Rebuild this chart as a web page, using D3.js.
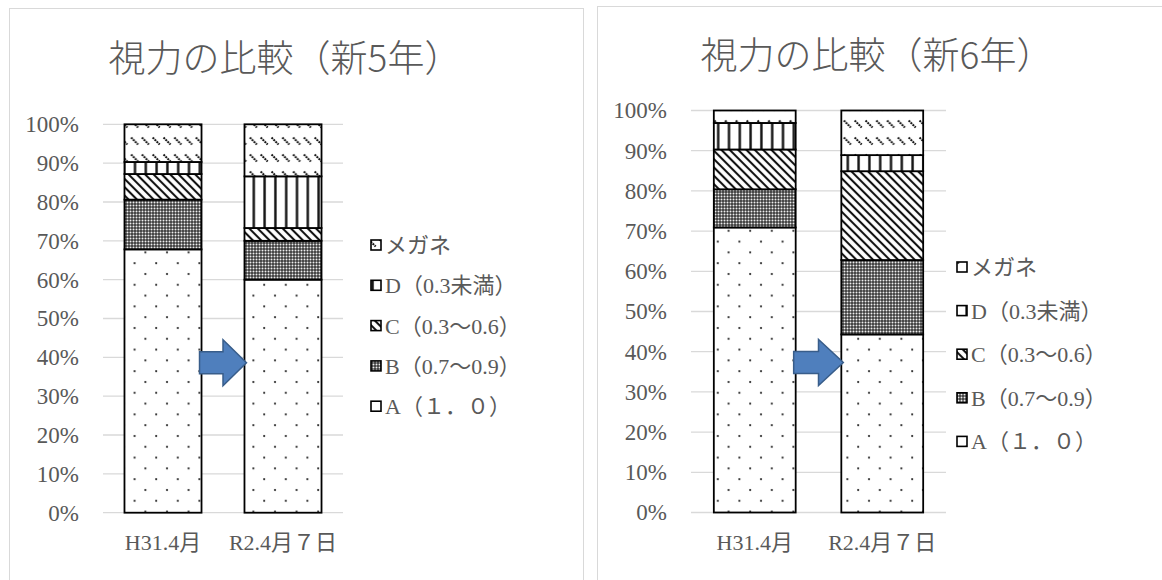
<!DOCTYPE html>
<html>
<head>
<meta charset="utf-8">
<script src="https://cdn.jsdelivr.net/npm/d3@7"></script>
<style>
  html, body { margin: 0; padding: 0; background: #fff; }
  svg { display: block; }
  text { font-family: "Liberation Serif", "Noto Sans CJK JP", serif; fill: #595959; }
</style>
</head>
<body>
<svg width="1162" height="580"></svg>
<script>
// data, percent of pupils per vision class
let categories = ["H31.4月", "R2.4月７日"];
let seriesKeys = ["A", "B", "C", "D", "G"];
let seriesNames = ["A（１．０）", "B（0.7〜0.9）", "C（0.3〜0.6）", "D（0.3未満）", "メガネ"];
let yTicks = [0, 10, 20, 30, 40, 50, 60, 70, 80, 90, 100];

let grade5H31 = [67.8, 12.8, 6.6, 3.1, 9.7];
let grade5R2  = [60.0, 10.0, 3.3, 13.3, 13.4];
let grade6H31 = [70.9, 9.5, 9.9, 6.6, 3.1];
let grade6R2  = [44.3, 18.5, 22.1, 4.0, 11.1];

let titles = ["視力の比較（新5年）", "視力の比較（新6年）"];

// layout of the two panels
let charts = [
    { title: titles[0], rows: [grade5H31, grade5R2],
      panel: {x: 9.5, y: 8.5, w: 574, h: 600},
      plot: {left: 103, right: 343, bottom: 512.7, top: 124.3},
      titleX: 285, titleY: 72,
      legendX: 371, legendY: 245, legendStep: 40.3 },
    { title: titles[1], rows: [grade6H31, grade6R2],
      panel: {x: 597.5, y: 6.5, w: 600, h: 600},
      plot: {left: 691, right: 946, bottom: 512.5, top: 110.5},
      titleX: 877, titleY: 69,
      legendX: 957, legendY: 267, legendStep: 43.6 }
];

var svg = d3.select('svg');
var defs = svg.append('defs');

// fill patterns
let patA = defs.append('pattern').attr('id', 'pA')
    .attr('patternUnits', 'userSpaceOnUse').attr('width', 21.6).attr('height', 21.6);
patA.append('rect').attr('width', 21.6).attr('height', 21.6).attr('fill', '#fff');
patA.append('circle').attr('cx', 5).attr('cy', 4).attr('r', 1.1).attr('fill', '#222');
patA.append('circle').attr('cx', 15.8).attr('cy', 14.8).attr('r', 1.1).attr('fill', '#222');

let patB = defs.append('pattern').attr('id', 'pB')
    .attr('patternUnits', 'userSpaceOnUse').attr('width', 3).attr('height', 3);
patB.append('rect').attr('width', 3).attr('height', 3).attr('fill', '#3a3a3a');
patB.append('circle').attr('cx', 1.5).attr('cy', 1.5).attr('r', 1.0).attr('fill', '#eee');

let patC = defs.append('pattern').attr('id', 'pC')
    .attr('patternUnits', 'userSpaceOnUse').attr('width', 5.9).attr('height', 10)
    .attr('patternTransform', 'rotate(-45)');
patC.append('rect').attr('width', 5.9).attr('height', 10).attr('fill', '#fff');
patC.append('line').attr('x1', 2.95).attr('x2', 2.95).attr('y1', -1).attr('y2', 11)
    .attr('stroke', '#111').attr('stroke-width', 2.1);

let patD = defs.append('pattern').attr('id', 'pD')
    .attr('patternUnits', 'userSpaceOnUse').attr('width', 10.8).attr('height', 10);
patD.append('rect').attr('width', 10.8).attr('height', 10).attr('fill', '#fff');
patD.append('line').attr('x1', 5.4).attr('x2', 5.4).attr('y1', -1).attr('y2', 11)
    .attr('stroke', '#111').attr('stroke-width', 2.4);

let patG = defs.append('pattern').attr('id', 'pG')
    .attr('patternUnits', 'userSpaceOnUse').attr('width', 10.8).attr('height', 17);
patG.append('rect').attr('width', 10.8).attr('height', 17).attr('fill', '#fff');
patG.append('line').attr('x1', 1.5).attr('y1', 1.5).attr('x2', 8.5).attr('y2', 8.5)
    .attr('stroke', '#111').attr('stroke-width', 2).attr('stroke-dasharray', '2 0.8');

let fills = {A: 'url(#pA)', B: 'url(#pB)', C: 'url(#pC)', D: 'url(#pD)', G: 'url(#pG)'};

charts.forEach(function(c) {
    let g = svg.append('g');

    // panel frame
    g.append('rect')
        .attr('x', c.panel.x).attr('y', c.panel.y)
        .attr('width', c.panel.w).attr('height', c.panel.h)
        .attr('fill', '#fff').attr('stroke', '#d9d9d9').attr('stroke-width', 1);

    g.append('text')
        .attr('x', c.titleX).attr('y', c.titleY)
        .attr('text-anchor', 'middle')
        .style('font-size', '37px')
        .style('font-family', '"Noto Sans CJK JP", "Liberation Serif"')
        .style('font-weight', 300)
        .text(c.title);

    let x = d3.scaleBand()
        .domain(categories)
        .range([c.plot.left, c.plot.right])
        .paddingInner(0.358)
        .paddingOuter(0.179);

    let y = d3.scaleLinear()
        .domain([0, 100])
        .range([c.plot.bottom, c.plot.top]);

    // gridlines
    g.append('g').selectAll('line')
        .data(yTicks)
        .enter()
        .append('line')
        .attr('x1', c.plot.left).attr('x2', c.plot.right)
        .attr('y1', d => y(d)).attr('y2', d => y(d))
        .attr('stroke', '#d9d9d9').attr('stroke-width', 1.3);

    let yAxis = g.append('g')
        .attr('transform', `translate(${c.plot.left}, 0)`)
        .call(d3.axisLeft(y).tickValues(yTicks).tickSize(0).tickPadding(24)
            .tickFormat(d => d + '%'));
    yAxis.select('.domain').remove();
    yAxis.selectAll('text')
        .style('font-family', '"Liberation Serif", "Noto Sans CJK JP"')
        .style('font-size', '23px')
        .attr('fill', '#595959');

    let xAxis = g.append('g')
        .attr('transform', `translate(0, ${c.plot.bottom})`)
        .call(d3.axisBottom(x).tickSize(0).tickPadding(22));
    xAxis.select('.domain').remove();
    xAxis.selectAll('text')
        .style('font-family', '"Liberation Serif", "Noto Sans CJK JP"')
        .style('font-size', '22px')
        .attr('fill', '#595959');

    // stacked bars
    let table = categories.map((cat, i) => {
        let row = {cat: cat};
        seriesKeys.forEach((k, j) => { row[k] = c.rows[i][j]; });
        return row;
    });
    let stacked = d3.stack().keys(seriesKeys)(table);

    stacked.forEach(function(layer) {
        g.append('g').selectAll('rect')
            .data(layer)
            .enter()
            .append('rect')
            .attr('x', d => x(d.data.cat))
            .attr('width', x.bandwidth())
            .attr('y', d => y(d[1]))
            .attr('height', d => y(d[0]) - y(d[1]))
            .attr('fill', fills[layer.key])
            .attr('stroke', '#000')
            .attr('stroke-width', 1.8);
    });

    // arrow between the bars
    let ax0 = x(categories[0]) + x.bandwidth() - 2;
    let ax1 = x(categories[1]) + 2;
    let ay = c.plot.bottom - 150;
    let mid = ax0 + (ax1 - ax0) * 0.5;
    g.append('path')
        .attr('d', `M${ax0},${ay - 11} L${mid},${ay - 11} L${mid},${ay - 23} L${ax1},${ay} L${mid},${ay + 23} L${mid},${ay + 11} L${ax0},${ay + 11} Z`)
        .attr('fill', '#4f7fbd')
        .attr('stroke', '#385d8a')
        .attr('stroke-width', 1.5);

    // legend, top item is the last series
    let legend = g.append('g');
    let items = seriesKeys.slice().reverse();
    items.forEach(function(k, i) {
        let ly = c.legendY + i * c.legendStep;
        legend.append('rect')
            .attr('x', c.legendX).attr('y', ly - 5)
            .attr('width', 10).attr('height', 10)
            .attr('fill', fills[k])
            .attr('stroke', '#000').attr('stroke-width', 1.6);
        legend.append('text')
            .attr('x', c.legendX + 14).attr('y', ly)
            .attr('dy', '0.36em')
            .style('font-size', '22px')
            .text(seriesNames[seriesKeys.indexOf(k)]);
    });
});
</script>
</body>
</html>
